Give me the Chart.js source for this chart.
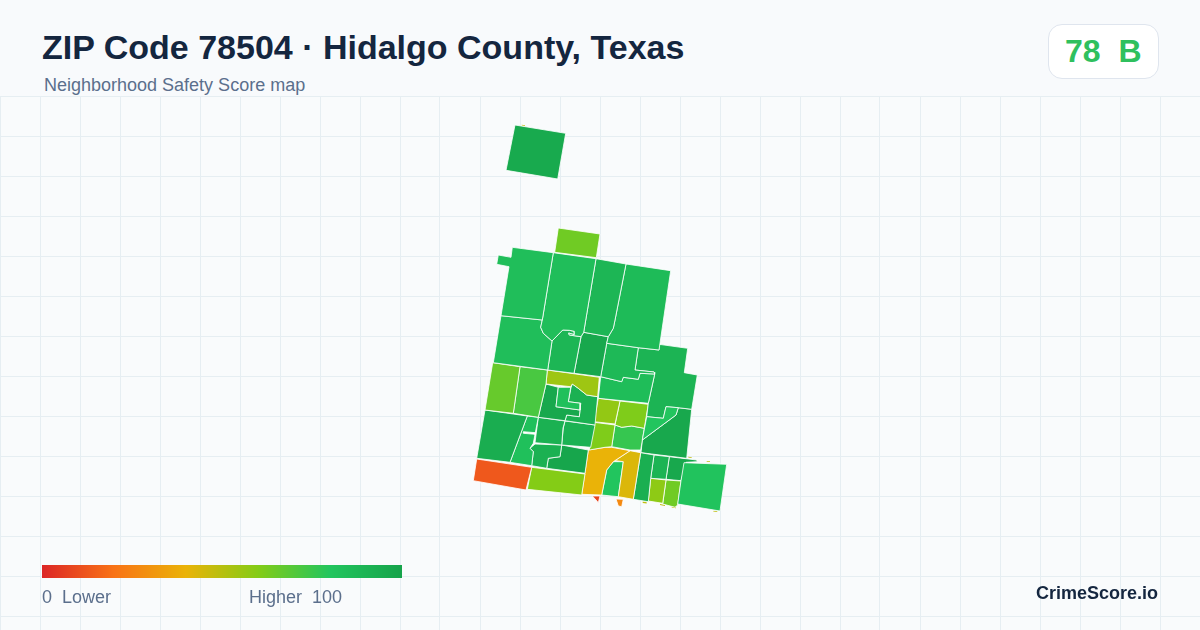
<!DOCTYPE html>
<html>
<head>
<meta charset="utf-8">
<script src="https://cdn.jsdelivr.net/npm/chart.js@4"></script>
<style>
  html, body { margin: 0; padding: 0; background: #f9fbfc; }
  body { width: 1200px; height: 630px; overflow: hidden; position: relative; font-family: "Liberation Sans", Arial, sans-serif; }
  #map { position: absolute; left: 0; top: 0; }
  #head { position: absolute; left: 0; top: 0; width: 1200px; height: 96px; background: #f8fafc; }
  .txt { position: absolute; white-space: pre; }
  #title { left: 42px; top: 27px; font-size: 34px; line-height: 40px; font-weight: 700; color: #14263f; }
  #sub { left: 44px; top: 75px; font-size: 18px; line-height: 20px; color: #5b6f8c; }
  #badge { position: absolute; left: 1048px; top: 24px; width: 109px; height: 53px; background: #fff; border: 1px solid #dfe5ee; border-radius: 14px; }
  #grade { left: 1065px; top: 32px; font-size: 32px; line-height: 38px; font-weight: 700; color: #2fc05e; }
  #ramp { position: absolute; left: 42px; top: 565px; width: 360px; height: 13px; }
  #low { left: 42px; top: 587px; font-size: 18px; line-height: 20px; color: #5b6f8c; }
  #high { left: 249px; top: 587px; font-size: 18px; line-height: 20px; color: #5b6f8c; }
  #brand { left: 1036px; top: 582px; font-size: 18px; line-height: 22px; font-weight: 700; color: #14263f; }
</style>
</head>
<body>
<canvas id="map" width="1200" height="630"></canvas>
<div id="head"></div>
<div class="txt" id="title"></div>
<div class="txt" id="sub"></div>
<div id="badge"></div>
<div class="txt" id="grade"></div>
<div id="ramp"></div>
<div class="txt" id="low"></div>
<div class="txt" id="high"></div>
<div class="txt" id="brand"></div>
<script>
// texts
const titleText = 'ZIP Code 78504 · Hidalgo County, Texas';
const subText = 'Neighborhood Safety Score map';
const zipScore = 78;
const zipGrade = 'B';
const brandText = 'CrimeScore.io';

// score ramp
const rampStops = [0, 20, 40, 60, 80, 100];
const rampColors = ['#dc2626', '#f97316', '#eab308', '#84cc16', '#22c55e', '#16a34a'];

// block group scores, same order as the outlines
const tractScores = [
  96, 64, 84, 84, 89, 86, 84, 89, 97, 87, 85, 80, 90,
  66, 72, 55, 83, 97, 92, 94, 83, 92, 91, 92, 98, 13, 60,
  57, 61, 61, 76, 40, 43, 80, 93, 90, 97, 81, 58, 64, 8, 27
];

// block group outlines, map units
const tractOutlines = [
  [[515,125],[565.7,133.3],[557.7,179],[506,170.3]],
  [[558.3,228],[600,234],[596.3,257.7],[554.7,252.3]],
  [[512.3,247.3],[553.3,252.7],[542.3,320],[501,315.7],[509,266.7],[496.7,264.3],[498.3,255],[511,257.3]],
  [[553.3,252.7],[596,258.7],[583.7,332.3],[581,336.7],[569.3,335],[568.7,333],[574.3,334.7],[574.3,331.3],[569.3,330.3],[562.7,330],[552,341],[543.3,333.3],[540.7,327.3],[542.3,320]],
  [[596,258.7],[626,264],[615,320],[613.3,328.3],[608.3,336.7],[583.7,332.3]],
  [[626,264],[670.7,270.7],[659,350],[638.3,347.7],[606.7,343.3],[608.3,336.7],[613.3,328.3],[615,320]],
  [[501,315.7],[542.3,320],[540.7,327.3],[543.3,333.3],[552,341],[547.7,370],[493.3,362.7]],
  [[552,341],[562.7,330],[569.3,330.3],[574.3,331.3],[574.3,334.7],[568.7,333],[569.3,335],[581,336.7],[574,373.3],[547.7,370]],
  [[583.7,332.3],[608.3,336.7],[606.7,343.3],[600.7,376.7],[574,373.3],[581,336.7]],
  [[606.7,343.3],[638.3,347.7],[635,370],[654,372],[654.7,374],[640,373.3],[638.3,379.3],[623.3,377.3],[621.7,381.7],[600.7,376.7]],
  [[600.7,376.7],[621.7,381.7],[623.3,377.3],[638.3,379.3],[640,373.3],[654.7,374],[648.3,403.3],[598.3,398.3]],
  [[646.7,416.7],[663.3,418.3],[666,406.7],[678.3,407.7],[676,415],[642.3,440]],
  [[638.3,347.7],[659,350],[659,344.3],[687.7,348.3],[684.3,372.7],[697.3,375],[691.7,409.3],[678.3,407.7],[666,406.7],[663.3,418.3],[646.7,416.7],[648.3,403.3],[654.7,374],[654,372],[635,370]],
  [[492.7,362.7],[520,366.7],[513.3,413.3],[485,410]],
  [[520,366.7],[547.3,370],[546,384],[538.3,417.3],[513.3,413.3]],
  [[547.3,370],[599.3,377.3],[597.7,396.7],[586.7,395],[578.3,388.3],[572.3,384],[570.7,386.7],[546,384]],
  [[558.3,387.3],[570.7,387.3],[568.3,401.7],[580.7,403.3],[580,410],[556,406.7]],
  [[546,384],[558.3,387.3],[556,406.7],[580,410],[579.3,416.7],[566.7,415],[565,420.7],[538.3,417.3]],
  [[572.3,384],[578.3,388.3],[586.7,395],[597.7,396.7],[595,425],[565,420.7],[566.7,415],[579.3,416.7],[580.7,403.3],[568.3,401.7],[571,387.7]],
  [[485,410],[527.3,416],[510,462.3],[476.7,458.3]],
  [[527.3,416],[538.3,417.3],[533.3,443.3],[530,448.3],[533.3,451.7],[531.7,465.7],[510,462.3]],
  [[538.3,417.3],[565,421],[563,428],[561.7,445],[535,442.7]],
  [[565,421],[595,425],[590.7,447.3],[561.7,445],[563.3,428]],
  [[535,444],[561.7,445],[560,456.7],[548.3,458.3],[546.7,468.3],[531.7,465.7],[533.3,451.7],[530,448.3]],
  [[561.7,445],[588.3,450],[585,473.3],[546.7,468.3],[548.3,458.3],[560,456.7]],
  [[476.7,459],[531.7,467.3],[526,490],[473.3,480.7]],
  [[531.7,467.3],[585,474],[581.7,495],[527.3,489.3]],
  [[598.3,398.3],[620,401],[615,424],[594,421.7]],
  [[620,401],[648.3,404.3],[644.3,428.3],[631.7,426],[621.7,427.3],[615,425]],
  [[594,422.3],[615,425],[611.7,446.7],[605,447.3],[589.3,450]],
  [[615,425],[621.7,427.3],[631.7,426],[644.3,428.3],[640.7,450],[630,450],[611.7,446.7]],
  [[588.3,450],[605,447.3],[611.7,447.3],[630,450.7],[613.3,461.7],[606.7,470],[601.7,495],[581.7,494.3]],
  [[630,450.7],[640.7,452.7],[633.3,499.3],[618.3,496.7],[623.3,461.7],[616,460.7],[613.3,461.7]],
  [[613.3,461.7],[623.3,461.7],[618.3,496.7],[601.7,495],[606.7,470]],
  [[640.7,452.7],[654,455],[650.7,478.3],[648.3,501.7],[633.3,499.3]],
  [[654,455],[669.3,456.7],[666,479.3],[650.7,478.3]],
  [[678.3,407.7],[691.7,409.3],[686.7,458.3],[641,452.7],[642.3,440],[676,415]],
  [[684,462.7],[726.7,464.3],[720,511],[677.7,504],[681,480.7]],
  [[650.7,478.3],[666,480],[662.7,503.3],[648.3,501]],
  [[666,480],[681,481],[677.7,505],[675,507.3],[662.7,504]],
  [[592.3,496],[600,496],[598.3,502.7],[596,500]],
  [[616,499],[623.3,499.3],[621.7,506.7],[618.3,506]]
];

// the gap in the strip west of the middle blocks
const gapOutline = [[523.3,431.7],[535.7,432.7],[535,434.3],[523.3,433.3]];
// narrow block over the big south east one
const lastOutline = [[669.3,456.7],[696.7,460],[697.3,461.7],[686,462.3],[681,480.7],[666,479.3]];
const lastScore = 97;

// thin specks of neighbouring blocks along the edges
const speckOutlines = [
  [[521.7,124.8],[525,125.2],[525,126],[521.7,125.6]],
  [[642.7,501.6],[646.7,502.2],[646.7,503.4],[642.7,503]],
  [[660,504],[665,505],[665,506],[660,505]],
  [[671.7,506.6],[676,507.4],[676,508.2],[671.7,507.6]],
  [[713.3,510.8],[717.3,511.2],[717.3,512],[713.3,511.6]],
  [[706.7,461],[710,461.2],[710,462],[706.7,461.8]],
  [[688.3,456.8],[691.7,457.2],[691.7,458],[688.3,457.6]]
];
const speckScore = 48;

function hex2rgb(h) {
  return [1, 3, 5].map(i => parseInt(h.substr(i, 2), 16));
}

function scoreColor(score) {
  let i = 0;
  while (i < rampStops.length - 2 && score > rampStops[i + 1]) i++;
  const t = (score - rampStops[i]) / (rampStops[i + 1] - rampStops[i]);
  const a = hex2rgb(rampColors[i]), b = hex2rgb(rampColors[i + 1]);
  const c = a.map((v, k) => Math.round(v + (b[k] - v) * t));
  return `rgb(${c[0]},${c[1]},${c[2]})`;
}

function tractDataset(outline, color, lineW) {
  const pts = outline.map(p => ({ x: p[0], y: p[1] }));
  pts.push(pts[0]);
  return {
    data: pts,
    showLine: true,
    fill: 'shape',
    backgroundColor: color,
    borderColor: lineW ? '#ffffff' : color,
    borderWidth: lineW,
    borderJoinStyle: 'round',
    pointRadius: 0,
    tension: 0
  };
}

// first dataset ends up on top
const datasets = [tractDataset(gapOutline, '#ffffff', 0.8)];
tractOutlines.forEach((o, i) => datasets.push(tractDataset(o, scoreColor(tractScores[i]), 0.8)));
datasets.push(tractDataset(lastOutline, scoreColor(lastScore), 0.8));
speckOutlines.forEach(o => datasets.push(tractDataset(o, scoreColor(speckScore), 0)));

const gridColor = '#e6eef2';

new Chart(document.getElementById('map').getContext('2d'), {
  type: 'scatter',
  data: { datasets: datasets },
  options: {
    responsive: false,
    animation: false,
    events: [],
    layout: { padding: 0 },
    plugins: { legend: { display: false }, tooltip: { enabled: false } },
    scales: {
      x: {
        type: 'linear', min: 0, max: 1200,
        ticks: { display: false, stepSize: 40 },
        border: { display: false },
        grid: { color: gridColor, lineWidth: 1, drawTicks: false }
      },
      y: {
        type: 'linear', min: 0, max: 630, reverse: true,
        afterBuildTicks: axis => {
          const t = [];
          for (let v = 96; v < 630; v += 40) t.push({ value: v });
          axis.ticks = t;
        },
        ticks: { display: false },
        border: { display: false },
        grid: { color: gridColor, lineWidth: 1, drawTicks: false }
      }
    }
  }
});

document.getElementById('title').textContent = titleText;
document.getElementById('sub').textContent = subText;
document.getElementById('grade').textContent = zipScore + '  ' + zipGrade;
document.getElementById('low').textContent = rampStops[0] + '  Lower';
document.getElementById('high').textContent = 'Higher  ' + rampStops[rampStops.length - 1];
document.getElementById('brand').textContent = brandText;
document.getElementById('ramp').style.background =
  'linear-gradient(to right,' + rampColors.map((c, i) => c + ' ' + rampStops[i] + '%').join(',') + ')';
</script>
</body>
</html>
